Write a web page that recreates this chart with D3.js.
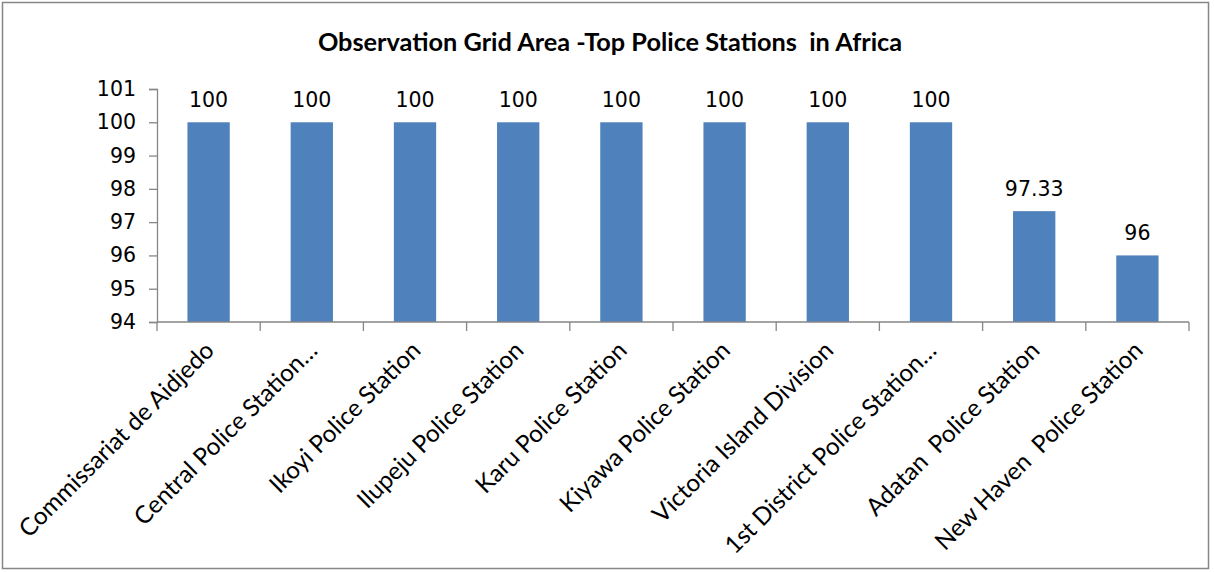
<!DOCTYPE html>
<html><head><meta charset="utf-8">
<script src="https://cdn.jsdelivr.net/npm/d3@7"></script>
<style>body{margin:0;background:#fff}svg{display:block}text{white-space:pre}</style>
</head><body>
<script>
const categories = ["Commissariat de Aidjedo","Central Police Station…","Ikoyi Police Station","Ilupeju Police Station","Karu Police Station","Kiyawa Police Station","Victoria Island Division","1st District Police Station…","Adatan  Police Station","New Haven  Police Station"];
const values = [100,100,100,100,100,100,100,100,97.33,96];
const valueLabels = ["100","100","100","100","100","100","100","100","97.33","96"];
const yTicks = [94,95,96,97,98,99,100,101];
const title = "Observation Grid Area -Top Police Stations  in Africa";

(function(){
const W = 1214, H = 572;
const svg = d3.select("body").append("svg").attr("width", W).attr("height", H);
svg.append("rect").attr("x",2.5).attr("y",2.5).attr("width",1206).attr("height",566)
  .attr("fill","#fff").attr("stroke","#868686").attr("stroke-width",1.5);

const pl = 157, pr = 1189, pt = 89, pb = 322;
const x = d3.scaleBand().domain(categories).range([pl,pr]).paddingInner(0.59).paddingOuter(0.295);
const y = d3.scaleLinear().domain([94,101]).range([pb,pt]);

svg.append("text").attr("x",610).attr("y",51).attr("text-anchor","middle")
  .attr("font-family","Lato, sans-serif").attr("font-weight","bold").attr("font-size",25.3)
  .attr("fill","#000").text(title);

svg.selectAll("rect.bar").data(values).enter().append("rect").attr("class","bar")
  .attr("x",(d,i)=>x(categories[i])).attr("width",x.bandwidth())
  .attr("y",d=>y(d)).attr("height",d=>pb-y(d)).attr("fill","#4F81BD");

svg.selectAll("text.lbl").data(values).enter().append("text").attr("class","lbl")
  .attr("x",(d,i)=>x(categories[i])+x.bandwidth()/2).attr("y",d=>y(d)-15)
  .attr("text-anchor","middle").attr("font-family","'DejaVu Sans', Verdana, sans-serif").attr("font-size",20.5)
  .attr("fill","#000").text((d,i)=>valueLabels[i]);

const yAxis = svg.append("g").attr("transform",`translate(${pl},0)`)
  .call(d3.axisLeft(y).tickValues(yTicks).tickSize(8).tickPadding(13).tickFormat(d3.format("d")));
yAxis.select(".domain").attr("stroke","#868686").attr("stroke-width",1.3);
yAxis.selectAll(".tick line").attr("stroke","#868686").attr("stroke-width",1.3);
yAxis.selectAll("text").attr("font-family","'DejaVu Sans', Verdana, sans-serif").attr("font-size",20.5).attr("fill","#000");

const xg = svg.append("g").attr("transform",`translate(0,${pb})`);
xg.append("line").attr("x1",pl).attr("x2",pr).attr("stroke","#868686").attr("stroke-width",1.3);
const boundaries = d3.range(categories.length+1).map(i=>pl + i*(pr-pl)/categories.length);
xg.selectAll("line.tk").data(boundaries).enter().append("line").attr("class","tk")
  .attr("x1",d=>d).attr("x2",d=>d).attr("y1",0).attr("y2",9).attr("stroke","#868686").attr("stroke-width",1.3);
xg.selectAll("text.cat").data(categories).enter().append("text").attr("class","cat")
  .attr("transform",d=>`translate(${x(d)+x.bandwidth()/2+7},${30}) rotate(-45)`)
  .attr("text-anchor","end").attr("font-family","Lato, sans-serif").attr("font-size",24.3)
  .attr("fill","#000").text(d=>d);
})();
</script>
</body></html>
